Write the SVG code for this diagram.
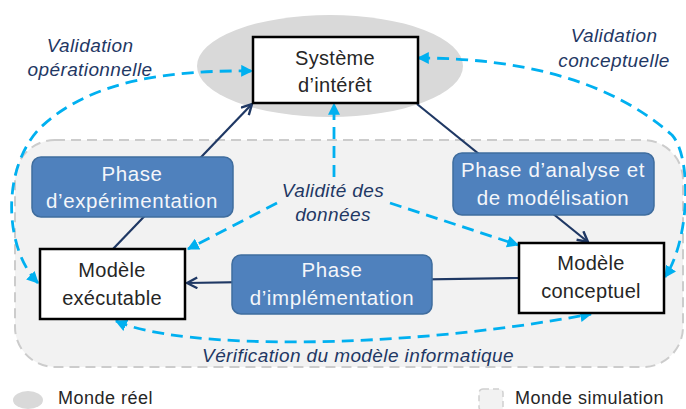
<svg xmlns="http://www.w3.org/2000/svg" width="686" height="409" viewBox="0 0 686 409">
<defs>
<style>
.node{fill:#ffffff;stroke:#000000;stroke-width:2.5}
.phase{fill:#4f81bd;stroke:#3f6d9e;stroke-width:1.5}
.nt{font-family:"Liberation Sans",Arial,sans-serif;font-size:20px;fill:#262626;text-anchor:middle;letter-spacing:0.3px}
.pt{font-family:"Liberation Sans",Arial,sans-serif;font-size:20.5px;fill:#f4f6fa;text-anchor:middle;letter-spacing:0.6px}
.lbl{font-family:"Liberation Sans",Arial,sans-serif;font-size:19px;font-style:italic;fill:#1f3864;text-anchor:middle;letter-spacing:0.4px}
.leg{font-family:"Liberation Sans",Arial,sans-serif;font-size:18px;fill:#262626;letter-spacing:0.5px}
.dark{fill:none;stroke:#1f3864;stroke-width:2.2;marker-end:url(#vh)}
.dash{fill:none;stroke:#00b0f0;stroke-width:2.8;stroke-dasharray:12 7}
</style>
<marker id="th" viewBox="0 0 10 10" refX="9" refY="5" markerWidth="12" markerHeight="12" markerUnits="userSpaceOnUse" orient="auto-start-reverse">
<path d="M0,0 L10,5 L0,10 z" fill="#00b0f0"/>
</marker>
<marker id="vh" viewBox="0 0 12 12" refX="10.5" refY="6" markerWidth="13" markerHeight="13" markerUnits="userSpaceOnUse" orient="auto">
<path d="M1,1 L10.5,6 L1,11" fill="none" stroke="#1f3864" stroke-width="2.2"/>
</marker>
</defs>

<g id="monde-reel">
<ellipse cx="330" cy="66" rx="133" ry="51" fill="#d9d9d9"/>
</g>
<g id="monde-simulation">
<rect x="15" y="140" width="668" height="227" rx="40" ry="40" fill="#f2f2f2" stroke="#cccccc" stroke-width="2" stroke-dasharray="10 6"/>
</g>

<g id="connectors">
<path class="dark" d="M113,249 L252,104"/>
<path class="dark" d="M417,104 L588,242"/>
<path class="dark" d="M519,278 L187,283"/>
<path class="dash" d="M38,283 C5,250 0,170 40,128 C90,80 170,70 252,71" marker-start="url(#th)" marker-end="url(#th)"/>
<path class="dash" d="M418,58 C520,58 610,80 672,135 C692,157 690,240 665,277" marker-start="url(#th)" marker-end="url(#th)"/>
<path class="dash" d="M334,177 L334,104" marker-end="url(#th)"/>
<path class="dash" d="M277,203 L188,249" marker-end="url(#th)"/>
<path class="dash" d="M390,203 L518,245" marker-end="url(#th)"/>
<path class="dash" d="M116,321 C180,350 400,350 591,314" marker-start="url(#th)" marker-end="url(#th)"/>
</g>

<g id="systeme-interet">
<rect class="node" x="253" y="37" width="165" height="66"/>
<text class="nt" x="335" y="65">Système</text>
<text class="nt" x="335" y="92">d’intérêt</text>
</g>
<g id="modele-executable">
<rect class="node" x="40" y="249" width="145" height="70"/>
<text class="nt" x="112" y="277">Modèle</text>
<text class="nt" x="112" y="305">exécutable</text>
</g>
<g id="modele-conceptuel">
<rect class="node" x="519" y="243" width="145" height="70"/>
<text class="nt" x="591" y="270">Modèle</text>
<text class="nt" x="591" y="298">conceptuel</text>
</g>
<g id="phase-experimentation">
<rect class="phase" x="32" y="157" width="201" height="60" rx="9" ry="9"/>
<text class="pt" x="132" y="181">Phase</text>
<text class="pt" x="132" y="208">d’expérimentation</text>
</g>
<g id="phase-analyse">
<rect class="phase" x="453" y="153" width="201" height="62" rx="9" ry="9"/>
<text class="pt" x="553" y="177">Phase d’analyse et</text>
<text class="pt" x="553" y="205">de modélisation</text>
</g>
<g id="phase-implementation">
<rect class="phase" x="232" y="255" width="200" height="59" rx="9" ry="9"/>
<text class="pt" x="332" y="277">Phase</text>
<text class="pt" x="332" y="305">d’implémentation</text>
</g>

<g id="labels">
<text class="lbl" x="90" y="52">Validation</text>
<text class="lbl" x="90" y="76">opérationnelle</text>
<text class="lbl" x="614" y="42">Validation</text>
<text class="lbl" x="614" y="67">conceptuelle</text>
<text class="lbl" x="333" y="197">Validité des</text>
<text class="lbl" x="333" y="221">données</text>
<text class="lbl" x="358" y="362">Vérification du modèle informatique</text>
</g>

<g id="legende">
<ellipse cx="28" cy="400" rx="15" ry="9" fill="#d9d9d9"/>
<text class="leg" x="58" y="404">Monde réel</text>
<rect x="479" y="389" width="24" height="22" rx="4" ry="4" fill="#f2f2f2" stroke="#d0d0d0" stroke-width="1.5" stroke-dasharray="6 4"/>
<text class="leg" x="515" y="404">Monde simulation</text>
</g>
</svg>
